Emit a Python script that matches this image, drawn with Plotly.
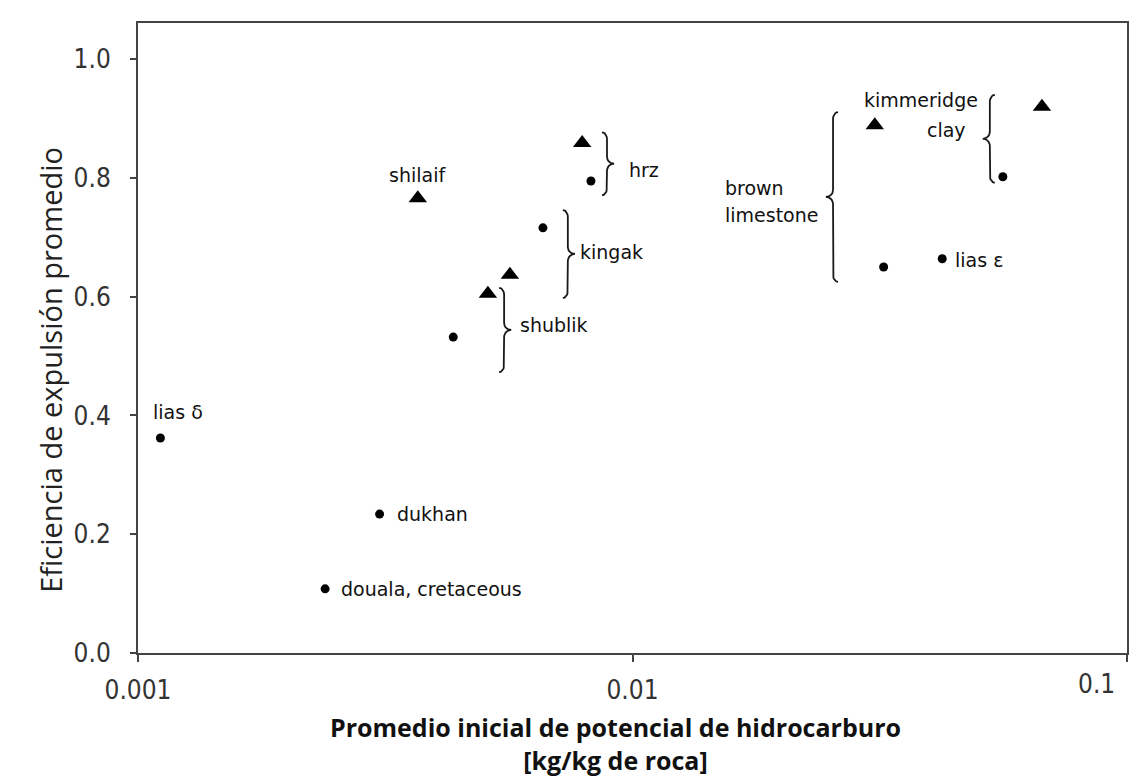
import numpy as np
import plotly.graph_objects as go

# --- datos ---
# círculos (muestras individuales)
circle_names = ["lias δ", "douala, cretaceous", "dukhan", "shublik", "kingak", "hrz",
                "brown limestone", "lias ε", "kimmeridge clay"]
circle_x = [0.00111, 0.00239, 0.00308, 0.00434, 0.00659, 0.00824, 0.0322, 0.0423, 0.0561]
circle_y = [0.362, 0.108, 0.234, 0.532, 0.716, 0.795, 0.650, 0.664, 0.802]

# triángulos
tri_names = ["shilaif", "shublik", "shublik", "hrz", "brown limestone", "kimmeridge clay"]
tri_x = [0.00368, 0.0051, 0.00565, 0.00791, 0.0309, 0.0673]
tri_y = [0.766, 0.605, 0.637, 0.859, 0.889, 0.920]

# llaves que agrupan formaciones: x, y superior, y inferior, lado (1 = "}", -1 = "{")
brace_names = ["hrz", "kingak", "shublik", "brown limestone", "kimmeridge clay"]
brace_x = [0.00888, 0.00740, 0.00550, 0.02544, 0.0528]
brace_top = [0.877, 0.746, 0.615, 0.911, 0.940]
brace_bot = [0.771, 0.598, 0.473, 0.625, 0.792]
brace_side = [1, 1, 1, -1, -1]

x_ticks = [0.001, 0.01, 0.1]
x_ticktext = ["0.001", "0.01", "0.1"]
y_ticks = [0.0, 0.2, 0.4, 0.6, 0.8, 1.0]
y_ticktext = ["0.0", "0.2", "0.4", "0.6", "0.8", "1.0"]


def brace_path(x, y_top, y_bot, side):
    # dibuja una llave en pixeles aproximados y la devuelve en unidades de datos
    kx, ky = 494.5, 593.75
    x0 = np.log10(x) * kx
    top, bot = y_top * ky, y_bot * ky
    mid = (top + bot) / 2
    hook, tip, r = 5, 7, 7
    t = np.linspace(0, np.pi / 2, 9)
    px = np.concatenate([
        -side * hook + side * hook * np.sin(t),
        side * tip * (1 - np.cos(t)),
        (side * tip * (1 - np.cos(t)))[::-1],
        -side * hook + side * hook * np.cos(t),
    ])
    py = np.concatenate([
        top - r + r * np.cos(t),
        mid + r - r * np.sin(t),
        (mid - r + r * np.sin(t))[::-1],
        bot + r - r * np.sin(t),
    ])
    return 10 ** ((x0 + px) / kx), py / ky


fig = go.Figure()

for bx, bt, bb, bs in zip(brace_x, brace_top, brace_bot, brace_side):
    xs, ys = brace_path(bx, bt, bb, bs)
    fig.add_trace(go.Scatter(x=xs, y=ys, mode="lines", line=dict(color="#1a1a1a", width=1.8),
                             hoverinfo="skip", showlegend=False))

fig.add_trace(go.Scatter(
    x=circle_x, y=circle_y, mode="markers", text=circle_names,
    marker=dict(symbol="circle", size=9, color="black"),
    hovertemplate="%{text}<br>%{x}<br>%{y:.2f}<extra></extra>", showlegend=False))
fig.add_trace(go.Scatter(
    x=tri_x, y=tri_y, mode="markers", text=tri_names,
    marker=dict(symbol="triangle-up", size=16, color="black"),
    hovertemplate="%{text}<br>%{x}<br>%{y:.2f}<extra></extra>", showlegend=False))

lab_font = dict(family="DejaVu Sans", size=19, color="#111")
labels = [
    ("lias δ", 0.00106, 0.406, "left"),
    ("dukhan", 0.00331, 0.234, "left"),
    ("douala, cretaceous", 0.00255, 0.108, "left"),
    ("shilaif", 0.00368, 0.805, "center"),
    ("hrz", 0.00975, 0.813, "left"),
    ("kingak", 0.00776, 0.675, "left"),
    ("shublik", 0.00586, 0.552, "left"),
    ("brown", 0.01524, 0.783, "left"),
    ("limestone", 0.01524, 0.738, "left"),
    ("kimmeridge", 0.0505, 0.931, "right"),
    ("clay", 0.0478, 0.881, "right"),
    ("lias ε", 0.0445, 0.662, "left"),
]
for txt, lx, ly, anchor in labels:
    fig.add_annotation(x=np.log10(lx), y=ly, text=txt, showarrow=False,
                       xanchor=anchor, yanchor="middle", font=lab_font)

tick_font = dict(family="Liberation Sans Narrow, DejaVu Sans Condensed, Arial Narrow, sans-serif",
                 size=26, color="#333")

# la última etiqueta del eje x queda pegada al borde: se pone a mano, algo a la izquierda
fig.add_annotation(xref="paper", yref="paper", x=0.990, y=-0.049, yanchor="middle",
                   text=x_ticktext[-1], showarrow=False, font=tick_font)

# títulos de los ejes
fig.add_annotation(xref="paper", yref="paper", x=-0.111, y=0.449, textangle=-90,
                   text="Eficiencia de expulsión promedio", showarrow=False,
                   font=dict(family="Open Sans", size=29, color="#222"))
fig.add_annotation(xref="paper", yref="paper", x=0.483, y=-0.1444, yanchor="middle",
                   text="<b>Promedio inicial de potencial de hidrocarburo</b><br><b>[kg/kg de roca]</b>",
                   showarrow=False, font=dict(family="Open Sans", size=25, color="#111"))

fig.update_xaxes(type="log", range=[-3, -1], tickvals=x_ticks,
                 ticktext=x_ticktext[:-1] + [""],
                 showgrid=False, zeroline=False, showline=True, mirror=True,
                 linecolor="#444", linewidth=2, ticks="outside", ticklen=7,
                 tickcolor="#444", tickwidth=2, tickfont=tick_font, ticklabelstandoff=6,
                 automargin=False, ticklabeloverflow="allow")
fig.update_yaxes(range=[0, 1.061], tickvals=y_ticks, ticktext=y_ticktext,
                 showgrid=False, zeroline=False, showline=True, mirror=True,
                 linecolor="#444", linewidth=2, ticks="outside", ticklen=6,
                 tickcolor="#444", tickwidth=2, tickfont=tick_font, ticklabelstandoff=14,
                 automargin=False, ticklabeloverflow="allow")

# la página añade 8 px de margen al cuerpo; se compensa aquí
fig.update_layout(
    width=1137, height=784,
    margin=dict(l=130, r=18, t=15, b=139),
    plot_bgcolor="white", paper_bgcolor="white",
)

fig.write_html("out.html")
